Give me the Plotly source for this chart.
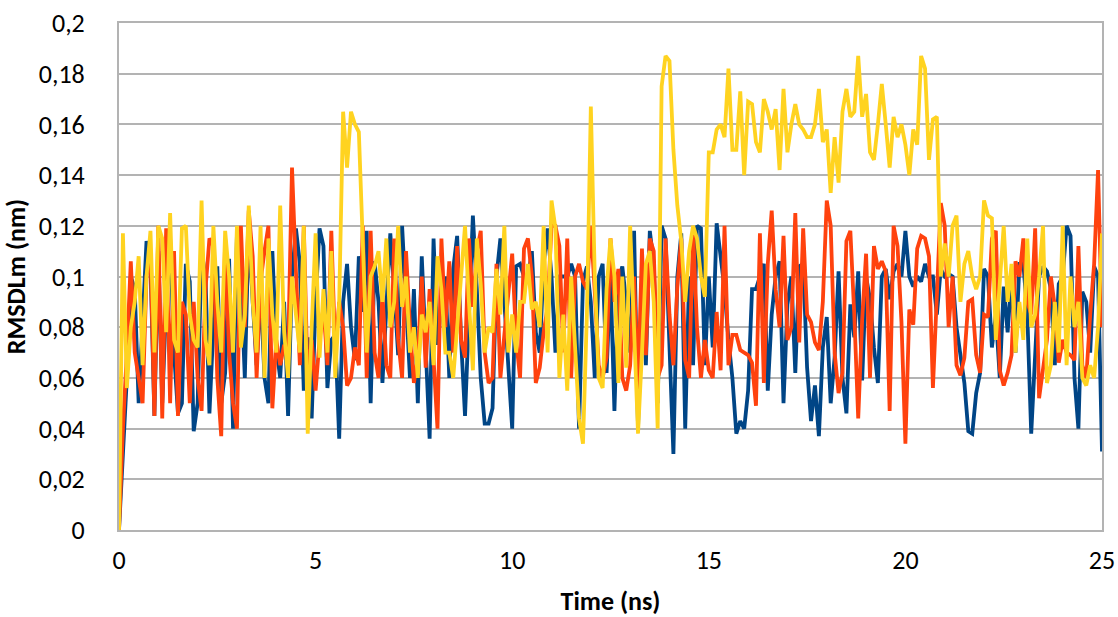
import plotly.graph_objects as go

time_ns = [round(i * 0.1, 1) for i in range(251)]

blue = [
    0, 0.03, 0.06, 0.1, 0.095, 0.05, 0.08, 0.114, 0.105, 0.045,
    0.11, 0.05, 0.09, 0.115, 0.07, 0.046, 0.05, 0.105, 0.098, 0.039,
    0.05, 0.11, 0.1, 0.046, 0.08, 0.104, 0.05, 0.062, 0.107, 0.04,
    0.117, 0.1, 0.06, 0.12, 0.09, 0.065, 0.095, 0.06, 0.05, 0.11,
    0.072, 0.06, 0.09, 0.045, 0.1, 0.119, 0.105, 0.055, 0.076, 0.044,
    0.09, 0.119, 0.112, 0.056, 0.075, 0.077, 0.036, 0.09, 0.105, 0.08,
    0.067, 0.108, 0.086, 0.118, 0.05, 0.106, 0.09, 0.058, 0.088, 0.117,
    0.095, 0.069, 0.12, 0.087, 0.06, 0.095, 0.05, 0.108, 0.074, 0.036,
    0.115, 0.073, 0.09, 0.1, 0.06, 0.103, 0.116, 0.075, 0.045, 0.085,
    0.124, 0.095, 0.06, 0.042, 0.042, 0.048, 0.1, 0.115, 0.09, 0.06,
    0.04, 0.104, 0.105, 0.1, 0.099, 0.11, 0.078, 0.07, 0.105, 0.119,
    0.1, 0.07, 0.1, 0.1, 0.1, 0.105, 0.1, 0.04, 0.098, 0.104,
    0.09, 0.06, 0.1, 0.105, 0.062, 0.1, 0.047, 0.098, 0.104, 0.09,
    0.07, 0.118, 0.04, 0.1, 0.065, 0.118, 0.105, 0.05, 0.12, 0.115,
    0.07, 0.03, 0.1, 0.117, 0.04, 0.1, 0.065, 0.12, 0.119, 0.065,
    0.1, 0.072, 0.121, 0.107, 0.095, 0.075, 0.06, 0.038, 0.043, 0.04,
    0.055, 0.095, 0.095, 0.1, 0.105, 0.055, 0.085, 0.1, 0.106, 0.05,
    0.089, 0.1, 0.062, 0.104, 0.105, 0.064, 0.043, 0.057, 0.037, 0.072,
    0.084, 0.05, 0.068, 0.102, 0.06, 0.046, 0.089, 0.076, 0.102, 0.059,
    0.1, 0.091, 0.072, 0.058, 0.1, 0.103, 0.091, 0.102, 0.105, 0.1,
    0.118, 0.1, 0.096, 0.1, 0.098, 0.105, 0.1, 0.1, 0.085, 0.103,
    0.1, 0.101, 0.1, 0.08, 0.068, 0.058, 0.039, 0.038, 0.054, 0.062,
    0.103, 0.1, 0.072, 0.085, 0.06, 0.096, 0.078, 0.1, 0.07, 0.105,
    0.105, 0.085, 0.038, 0.07, 0.1, 0.104, 0.102, 0.095, 0.065, 0.097,
    0.1, 0.12, 0.116, 0.06, 0.04, 0.094, 0.09, 0.07, 0.104, 0.1, 0.031,
]

orange = [
    0, 0.04, 0.07, 0.106, 0.07, 0.06, 0.05, 0.1, 0.11, 0.045,
    0.12, 0.044, 0.119, 0.05, 0.11, 0.045, 0.09, 0.085, 0.05, 0.09,
    0.06, 0.047, 0.095, 0.115, 0.112, 0.06, 0.037, 0.115, 0.07, 0.05,
    0.04, 0.12, 0.08, 0.126, 0.108, 0.06, 0.098, 0.11, 0.12, 0.048,
    0.075, 0.065, 0.073, 0.07, 0.143, 0.102, 0.065, 0.12, 0.058, 0.075,
    0.055, 0.075, 0.088, 0.065, 0.118, 0.07, 0.09, 0.08, 0.057, 0.06,
    0.072, 0.065, 0.12, 0.06, 0.118, 0.07, 0.06, 0.093, 0.065, 0.06,
    0.115, 0.075, 0.06, 0.11, 0.08, 0.058, 0.068, 0.1, 0.064, 0.095,
    0.069, 0.04, 0.115, 0.08, 0.106, 0.07, 0.112, 0.075, 0.068, 0.115,
    0.088, 0.11, 0.118, 0.07, 0.058, 0.06, 0.105, 0.06, 0.077, 0.094,
    0.109, 0.075, 0.06, 0.111, 0.115, 0.1, 0.058, 0.064, 0.078, 0.088,
    0.12, 0.12, 0.112, 0.07, 0.115, 0.06, 0.1, 0.105, 0.098, 0.095,
    0.12, 0.094, 0.065, 0.06, 0.068, 0.115, 0.09, 0.103, 0.06, 0.055,
    0.065, 0.1, 0.055, 0.111, 0.069, 0.115, 0.11, 0.06, 0.065, 0.115,
    0.085, 0.065, 0.096, 0.115, 0.067, 0.06, 0.118, 0.08, 0.06, 0.075,
    0.063, 0.06, 0.086, 0.063, 0.12, 0.065, 0.077, 0.077, 0.071, 0.07,
    0.069, 0.066, 0.049, 0.117, 0.058, 0.105, 0.126, 0.095, 0.08, 0.116,
    0.075, 0.08, 0.125, 0.074, 0.119, 0.085, 0.082, 0.074, 0.071, 0.09,
    0.13, 0.12, 0.07, 0.054, 0.062, 0.114, 0.118, 0.085, 0.044, 0.083,
    0.109, 0.06, 0.112, 0.103, 0.106, 0.102, 0.047, 0.12, 0.112, 0.082,
    0.034, 0.087, 0.081, 0.111, 0.116, 0.115, 0.108, 0.056, 0.09, 0.129,
    0.12, 0.08, 0.1, 0.065, 0.061, 0.068, 0.09, 0.091, 0.069, 0.062,
    0.085, 0.084, 0.115, 0.118, 0.063, 0.057, 0.062, 0.069, 0.106, 0.1,
    0.115, 0.09, 0.085, 0.119, 0.052, 0.064, 0.075, 0.1, 0.088, 0.066,
    0.075, 0.07, 0.069, 0.067, 0.112, 0.065, 0.06, 0.085, 0.105, 0.142, 0.08,
]

yellow = [
    0, 0.117, 0.056, 0.08, 0.09, 0.108, 0.065, 0.1, 0.118, 0.07,
    0.12, 0.115, 0.078, 0.125, 0.075, 0.07, 0.119, 0.12, 0.085, 0.075,
    0.072, 0.13, 0.075, 0.065, 0.12, 0.09, 0.07, 0.118, 0.1, 0.07,
    0.12, 0.072, 0.085, 0.128, 0.09, 0.07, 0.12, 0.06, 0.115, 0.085,
    0.07, 0.128, 0.078, 0.06, 0.1, 0.085, 0.07, 0.12, 0.038, 0.08,
    0.117, 0.068, 0.095, 0.07, 0.11, 0.06, 0.09, 0.165, 0.143, 0.165,
    0.16, 0.157, 0.112, 0.07, 0.1, 0.104, 0.11, 0.09, 0.115, 0.08,
    0.09, 0.12, 0.088, 0.1, 0.07, 0.08, 0.06, 0.085, 0.078, 0.09,
    0.065, 0.108, 0.095, 0.07, 0.07, 0.06, 0.08, 0.1, 0.12, 0.09,
    0.063, 0.115, 0.097, 0.07, 0.08, 0.078, 0.103, 0.085, 0.12, 0.07,
    0.085, 0.07, 0.09, 0.09, 0.105, 0.087, 0.09, 0.08, 0.12, 0.07,
    0.13, 0.119, 0.06, 0.085, 0.055, 0.1, 0.075, 0.044, 0.034, 0.085,
    0.167, 0.1, 0.06, 0.056, 0.095, 0.115, 0.1, 0.058, 0.1, 0.064,
    0.12, 0.08, 0.038, 0.07, 0.105, 0.11, 0.09, 0.04, 0.175, 0.187,
    0.185, 0.15, 0.128, 0.114, 0.09, 0.11, 0.12, 0.115, 0.1, 0.092,
    0.149, 0.149, 0.158, 0.16, 0.155, 0.182, 0.15, 0.15, 0.173, 0.14,
    0.169, 0.168, 0.153, 0.149, 0.17, 0.165, 0.158, 0.166, 0.142, 0.174,
    0.149, 0.16, 0.168, 0.16, 0.158, 0.155, 0.155, 0.16, 0.174, 0.153,
    0.158, 0.133, 0.155, 0.137, 0.165, 0.174, 0.163, 0.165, 0.187, 0.163,
    0.172, 0.149, 0.146, 0.16, 0.176, 0.16, 0.143, 0.163, 0.155, 0.16,
    0.152, 0.14, 0.158, 0.152, 0.187, 0.182, 0.146, 0.162, 0.163, 0.1,
    0.113, 0.1, 0.12, 0.124, 0.09, 0.105, 0.11, 0.1, 0.095, 0.1,
    0.13, 0.124, 0.123, 0.075, 0.1, 0.12, 0.09, 0.105, 0.07, 0.09,
    0.075, 0.115, 0.08, 0.085, 0.1, 0.12, 0.058, 0.065, 0.09, 0.07,
    0.12, 0.065, 0.1, 0.08, 0.09, 0.06, 0.057, 0.065, 0.06, 0.08, 0.117,
]

y_tick_vals = [0, 0.02, 0.04, 0.06, 0.08, 0.1, 0.12, 0.14, 0.16, 0.18, 0.2]
y_tick_text = ["0", "0,02", "0,04", "0,06", "0,08", "0,1", "0,12", "0,14", "0,16", "0,18", "0,2"]
x_tick_vals = [0, 5, 10, 15, 20, 25]

FONT = "Carlito, Lato, 'Open Sans', sans-serif"

fig = go.Figure()
for name, ys, col in [("Series 1", blue, "#004586"),
                      ("Series 2", orange, "#ff420e"),
                      ("Series 3", yellow, "#ffd320")]:
    fig.add_trace(go.Scatter(x=time_ns, y=ys, mode="lines", name=name,
                             line=dict(color=col, width=3.8)))

fig.update_layout(
    width=1118, height=617,
    margin=dict(l=119, r=16, t=23, b=87),
    paper_bgcolor="white", plot_bgcolor="white",
    showlegend=False,
    font=dict(family=FONT, color="black", size=26),
)
fig.update_xaxes(
    range=[0, 25], tickvals=x_tick_vals, showgrid=False, zeroline=False,
    showline=True, linecolor="#b3b3b3", linewidth=2, mirror=True,
    ticks="", tickfont=dict(size=26), ticklabelstandoff=6, automargin=False,
    title=dict(text="<b>Time (ns)</b>", font=dict(size=26), standoff=18),
)
fig.update_yaxes(
    range=[0, 0.2], tickvals=y_tick_vals, ticktext=y_tick_text,
    showgrid=True, gridcolor="#b3b3b3", gridwidth=1.5, zeroline=False,
    showline=True, linecolor="#b3b3b3", linewidth=2, mirror=True,
    ticks="", tickfont=dict(size=26), ticklabelstandoff=27, automargin=False,
    title=dict(text="<b>RMSDLm (nm)</b>", font=dict(size=26), standoff=8),
)

fig.write_html("out.html")
